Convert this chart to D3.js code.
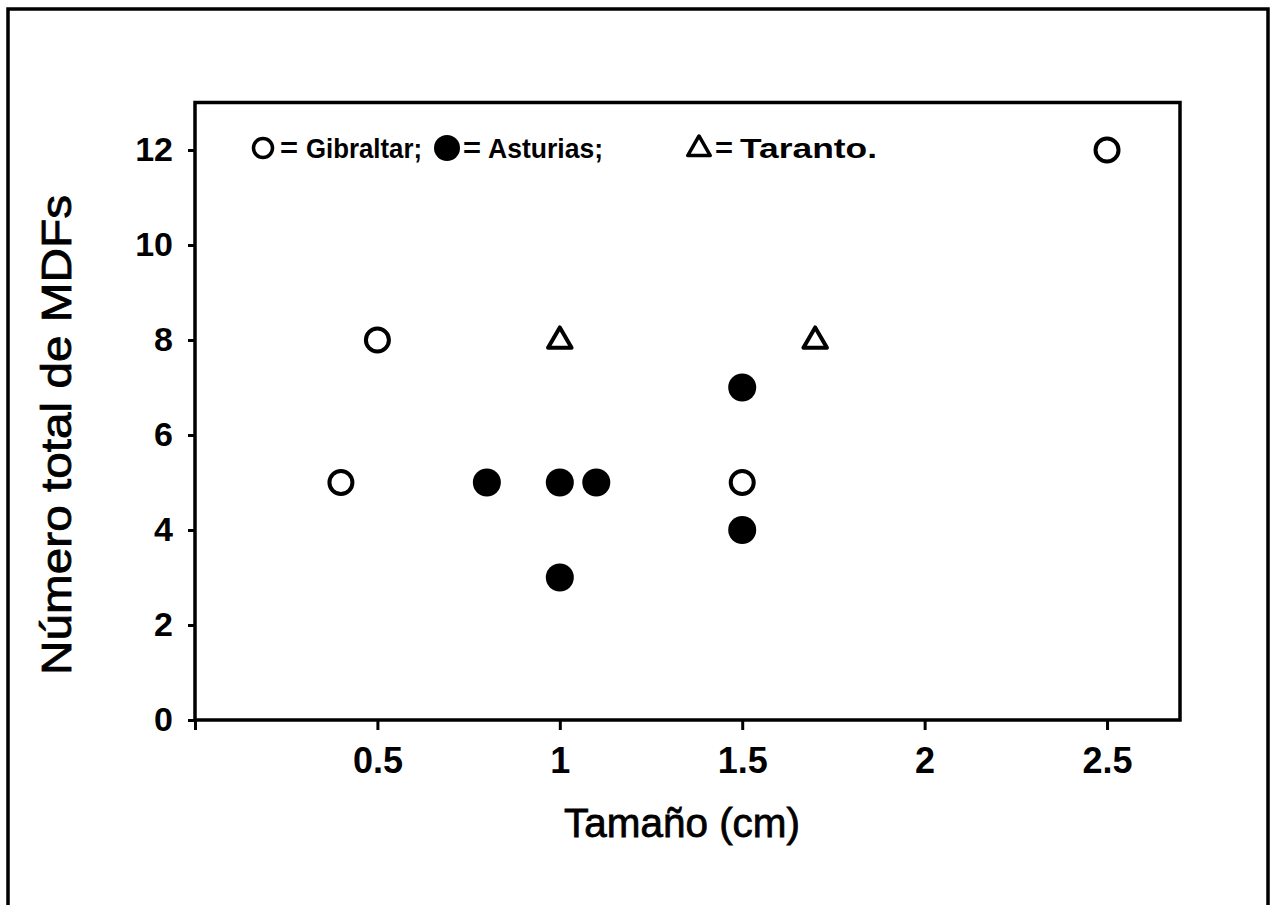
<!DOCTYPE html>
<html><head><meta charset="utf-8">
<script src="https://cdn.jsdelivr.net/npm/d3@7"></script>
<style>
html,body{margin:0;padding:0;background:#fff;}
svg{display:block;}
text{fill:#000;font-family:"Liberation Sans",Arial,sans-serif;}
</style></head>
<body>
<svg id="chart" width="1275" height="905"></svg>
<script>
// ---- data ----
const xTickValues = [0, 0.5, 1, 1.5, 2, 2.5];
const yTickValues = [0, 2, 4, 6, 8, 10, 12];
const gibraltarX = [0.4, 0.5, 1.5, 2.5];
const gibraltarY = [5, 8, 5, 12];
const asturiasX = [0.8, 1.0, 1.1, 1.0, 1.5, 1.5];
const asturiasY = [5, 5, 5, 3, 7, 4];
const tarantoX = [1.0, 1.7];
const tarantoY = [8, 8];
const xTitle = "Tamaño (cm)";
const yTitle = "Número total de MDFs";
const legendLabels = ["Gibraltar;", "Asturias;", "Taranto."];

// ---- layout ----
const svg = d3.select("#chart");
const x = d3.scaleLinear().domain([0, 2.7]).range([195, 1180]);
const y = d3.scaleLinear().domain([0, 13]).range([720, 102.5]);

// outer frame (bottom edge is cut off)
svg.append("path")
  .attr("d", "M8,912 L8,9 L1268,9 L1268,912")
  .attr("fill", "none").attr("stroke", "#000").attr("stroke-width", 3.5);

// plot box
svg.append("rect")
  .attr("x", x(0)).attr("y", y(13))
  .attr("width", x(2.7) - x(0)).attr("height", y(0) - y(13))
  .attr("fill", "none").attr("stroke", "#000").attr("stroke-width", 3.5);

// axes
const xAxis = d3.axisBottom(x).tickValues(xTickValues).tickSize(10).tickPadding(17)
  .tickFormat(d => d === 0 ? "" : d3.format("")(d));
const gx = svg.append("g").attr("transform", `translate(0,${y(0)})`).call(xAxis);
gx.select(".domain").remove();
gx.selectAll(".tick line").attr("stroke", "#000").attr("stroke-width", 3);
gx.selectAll(".tick text").attr("font-size", 36).attr("font-weight", "bold")
  .attr("font-family", "'Liberation Sans',Arial,sans-serif");

const yAxis = d3.axisLeft(y).tickValues(yTickValues).tickSize(7).tickPadding(15);
const gy = svg.append("g").attr("transform", `translate(${x(0)},0)`).call(yAxis);
gy.select(".domain").remove();
gy.selectAll(".tick line").attr("stroke", "#000").attr("stroke-width", 3);
gy.selectAll(".tick text").attr("font-size", 34).attr("font-weight", "bold")
  .attr("font-family", "'Liberation Sans',Arial,sans-serif");

// axis titles
svg.append("text").attr("x", 682).attr("y", 837).attr("text-anchor", "middle")
  .attr("font-size", 41).attr("textLength", 236).attr("lengthAdjust", "spacingAndGlyphs")
  .attr("stroke", "#000").attr("stroke-width", 0.8)
  .text(xTitle);
svg.append("text").attr("transform", "translate(71,435) rotate(-90)")
  .attr("text-anchor", "middle").attr("font-size", 42)
  .attr("textLength", 480).attr("lengthAdjust", "spacingAndGlyphs")
  .attr("stroke", "#000").attr("stroke-width", 0.8)
  .text(yTitle);

// points
const plot = svg.append("g");
plot.selectAll("circle.gib").data(d3.range(gibraltarX.length)).join("circle")
  .attr("class", "gib")
  .attr("cx", i => x(gibraltarX[i])).attr("cy", i => y(gibraltarY[i])).attr("r", 11.5)
  .attr("fill", "#fff").attr("stroke", "#000").attr("stroke-width", 4);
plot.selectAll("circle.ast").data(d3.range(asturiasX.length)).join("circle")
  .attr("class", "ast")
  .attr("cx", i => x(asturiasX[i])).attr("cy", i => y(asturiasY[i])).attr("r", 14)
  .attr("fill", "#000");
const tri = d3.symbol().type(d3.symbolTriangle).size(240);
plot.selectAll("path.tar").data(d3.range(tarantoX.length)).join("path")
  .attr("class", "tar")
  .attr("transform", i => `translate(${x(tarantoX[i])},${y(tarantoY[i]) + 1})`)
  .attr("d", tri()).attr("fill", "#fff").attr("stroke", "#000")
  .attr("stroke-width", 4).attr("stroke-linejoin", "round");

// legend
const lg = svg.append("g");
const ly = 148;
lg.append("circle").attr("cx", 263).attr("cy", ly).attr("r", 9.5)
  .attr("fill", "#fff").attr("stroke", "#000").attr("stroke-width", 3.5);
lg.append("circle").attr("cx", 447).attr("cy", ly).attr("r", 13).attr("fill", "#000");
lg.append("path").attr("transform", `translate(699,${ly + 1})`)
  .attr("d", d3.symbol().type(d3.symbolTriangle).size(220)())
  .attr("fill", "#fff").attr("stroke", "#000").attr("stroke-width", 3.5).attr("stroke-linejoin", "round");
[280, 463, 715].forEach(ex => {
  lg.append("text").attr("x", ex).attr("y", ly + 9).attr("font-size", 28).attr("font-weight", "bold")
    .attr("textLength", 18).attr("lengthAdjust", "spacingAndGlyphs").text("=");
});
const legX = [306, 488, 740];
const legW = [116, 115, 137];
legendLabels.forEach((t, i) => {
  lg.append("text").attr("x", legX[i]).attr("y", ly + 10).attr("font-size", 28).attr("font-weight", "bold")
    .attr("textLength", legW[i]).attr("lengthAdjust", "spacingAndGlyphs").text(t);
});
</script>
</body></html>
